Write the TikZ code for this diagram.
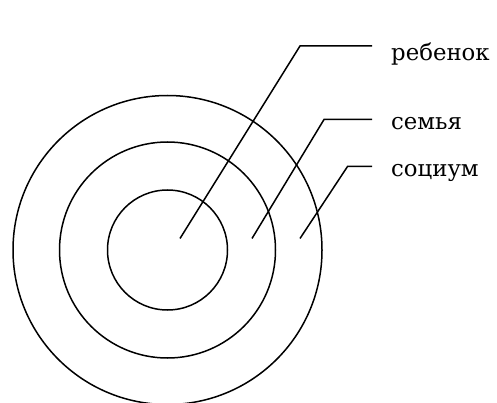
\documentclass[tikz,border=0pt]{standalone}
\usepackage{fontspec}
\setmainfont{DejaVu Serif}
\begin{document}
\begin{tikzpicture}[x=1pt,y=-1pt,
  ring/.style={draw=black,line width=1.5pt},
  leader/.style={draw=black,line width=1.5pt},
  lbl/.style={anchor=base west,inner sep=0pt,font=\fontsize{22.8}{26}\selectfont}]
\useasboundingbox (0,0) rectangle (497,403);
\coordinate (c) at (167.5,250);
\draw[ring] (c) circle[radius=60];
\draw[ring] (c) circle[radius=108];
\draw[ring] (c) circle[radius=154.5];
\node[lbl] (l1) at (391,61) {ребенок};
\node[lbl] (l2) at (391,130) {семья};
\node[lbl] (l3) at (391,176.5) {социум};
\coordinate (s1) at (180,238.5);
\coordinate (b1) at (300,46);
\coordinate (e1) at (372,46);
\coordinate (s2) at (252,238.5);
\coordinate (b2) at (324,119.5);
\coordinate (e2) at (372,119.5);
\coordinate (s3) at (300,238.5);
\coordinate (b3) at (347.5,166.5);
\coordinate (e3) at (372,166.5);
\draw[leader] (s1) -- (b1) -- (e1);
\draw[leader] (s2) -- (b2) -- (e2);
\draw[leader] (s3) -- (b3) -- (e3);
\end{tikzpicture}
\end{document}
